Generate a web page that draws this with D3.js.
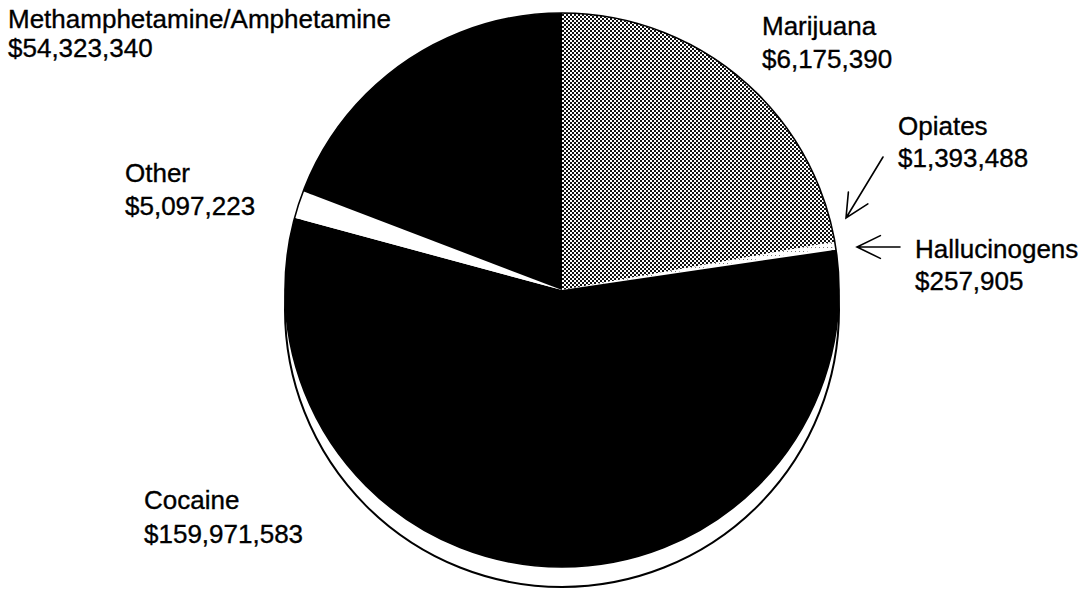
<!DOCTYPE html>
<html>
<head>
<meta charset="utf-8">
<script src="https://cdn.jsdelivr.net/npm/d3@7"></script>
<style>
  html, body { margin: 0; padding: 0; background: #fff; }
  svg { display: block; }
  text { font-family: "Liberation Sans", Arial, Helvetica, sans-serif; fill: #000; }
</style>
</head>
<body>
<svg id="chart" width="1089" height="589"></svg>
<script>
// Drug categories, clockwise from 12 o'clock
const categories = ["Marijuana", "Opiates", "Hallucinogens", "Cocaine", "Other", "Methamphetamine/Amphetamine"];
// Dollar amounts printed under each category name
const dollarValues = [6175390, 1393488, 257905, 159971583, 5097223, 54323340];
// Share of the pie taken by each slice, in percent
const sliceShares = [22.2, 0.33, 0.14, 56.5, 1.6, 19.2];

const width = 1089, height = 589;
const cx = 562, cy = 290, radius = 277, rimDepth = 20;

const svg = d3.select("#chart");
const defs = svg.append("defs");

// Fine halftone stipple for the marijuana slice
const stipple = defs.append("pattern")
  .attr("id", "stipple").attr("patternUnits", "userSpaceOnUse")
  .attr("width", 4).attr("height", 4);
stipple.append("rect").attr("width", 4).attr("height", 4).attr("fill", "#fff");
stipple.append("rect").attr("x", 0).attr("y", 0).attr("width", 2).attr("height", 2).attr("fill", "#111");
stipple.append("rect").attr("x", 2).attr("y", 2).attr("width", 2).attr("height", 2).attr("fill", "#111");

// Sparse dots for the opiates sliver
const sparse = defs.append("pattern")
  .attr("id", "sparse").attr("patternUnits", "userSpaceOnUse")
  .attr("width", 4).attr("height", 4);
sparse.append("rect").attr("width", 4).attr("height", 4).attr("fill", "#fff");
sparse.append("rect").attr("x", 1).attr("y", 1).attr("width", 1).attr("height", 1).attr("fill", "#777");

const fills = {
  "Marijuana": "url(#stipple)",
  "Opiates": "url(#sparse)",
  "Hallucinogens": "#fff",
  "Cocaine": "#000",
  "Other": "#fff",
  "Methamphetamine/Amphetamine": "#000"
};

const rows = categories.map((name, i) => ({ name, dollars: dollarValues[i], share: sliceShares[i] }));

const g = svg.append("g").attr("transform", `translate(${cx},${cy})`);

// Rim outline giving the disc its thickness below the top face
g.append("circle")
  .attr("cx", 0).attr("cy", rimDepth).attr("r", radius)
  .attr("fill", "#fff").attr("stroke", "#000").attr("stroke-width", 2);

const pie = d3.pie().sort(null).value(d => d.share).startAngle(0).endAngle(2 * Math.PI);
const arc = d3.arc().innerRadius(0).outerRadius(radius);

g.selectAll("path.slice")
  .data(pie(rows))
  .join("path")
  .attr("class", "slice")
  .attr("d", arc)
  .attr("fill", d => fills[d.data.name]);

// Outer edge of the top face
g.append("circle")
  .attr("r", radius)
  .attr("fill", "none").attr("stroke", "#000").attr("stroke-width", 1.6);

// Category labels with dollar amounts
const fmt = d3.format("$,");
const labelLayout = {
  "Methamphetamine/Amphetamine": { x: 8, y: 28, gap: 29 },
  "Marijuana": { x: 762, y: 35, gap: 33 },
  "Opiates": { x: 898, y: 135, gap: 32 },
  "Hallucinogens": { x: 915, y: 258, gap: 32 },
  "Other": { x: 125, y: 182, gap: 33 },
  "Cocaine": { x: 144, y: 509, gap: 34 }
};

const labels = svg.append("g").attr("class", "labels");
rows.forEach(d => {
  const L = labelLayout[d.name];
  const t = labels.append("text")
    .attr("x", L.x).attr("y", L.y)
    .attr("font-size", 26)
    .attr("stroke", "#000").attr("stroke-width", 0.35);
  t.append("tspan").attr("x", L.x).attr("y", L.y).text(d.name);
  t.append("tspan").attr("x", L.x).attr("y", L.y + L.gap).text(fmt(d.dollars));
});

// Pointer arrows for the two thinnest slices
const arrowLayout = [
  { name: "Opiates", tail: [883, 157], tip: [846, 218] },
  { name: "Hallucinogens", tail: [900, 247], tip: [857, 247] }
];
const barbLen = 26, barbAngle = 26 * Math.PI / 180;
const arrows = svg.append("g").attr("class", "arrows")
  .attr("fill", "none").attr("stroke", "#000").attr("stroke-width", 1.6).attr("stroke-linecap", "round");
arrowLayout.forEach(a => {
  const [tx, ty] = a.tail, [hx, hy] = a.tip;
  const ang = Math.atan2(ty - hy, tx - hx);
  const p = d3.path();
  p.moveTo(tx, ty); p.lineTo(hx, hy);
  p.moveTo(hx + barbLen * Math.cos(ang - barbAngle), hy + barbLen * Math.sin(ang - barbAngle));
  p.lineTo(hx, hy);
  p.lineTo(hx + barbLen * Math.cos(ang + barbAngle), hy + barbLen * Math.sin(ang + barbAngle));
  arrows.append("path").attr("d", p.toString());
});
</script>
</body>
</html>
